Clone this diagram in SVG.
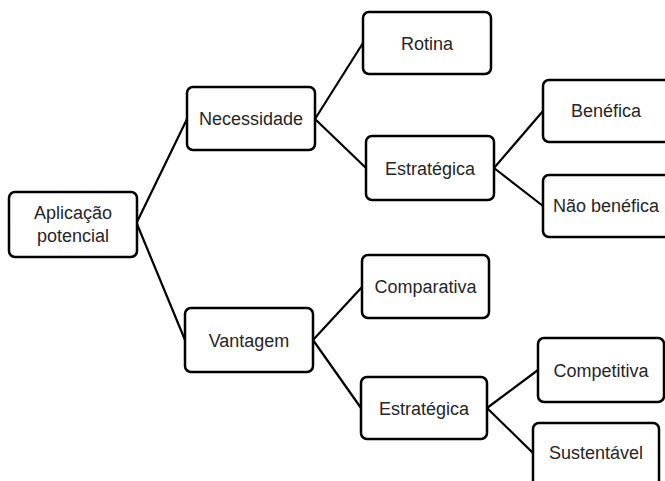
<svg xmlns="http://www.w3.org/2000/svg" width="665" height="481" viewBox="0 0 665 481">
<style>
.box{fill:#fff;stroke:#000;stroke-width:2.5}
.lbl{font-family:"Liberation Sans",Arial,sans-serif;font-size:18px;fill:#262626;text-anchor:middle}
.con{stroke:#000;stroke-width:2.2;fill:none}
</style>
<rect width="665" height="481" fill="#fff"/>
<g id="connectors">
<line class="con" x1="137" y1="222" x2="187" y2="119"/>
<line class="con" x1="137" y1="224" x2="185" y2="340"/>
<line class="con" x1="315" y1="119" x2="363" y2="43"/>
<line class="con" x1="315" y1="119" x2="366" y2="168"/>
<line class="con" x1="494" y1="168" x2="543" y2="111"/>
<line class="con" x1="494" y1="168" x2="543" y2="206"/>
<line class="con" x1="313" y1="340" x2="362" y2="287"/>
<line class="con" x1="313" y1="340" x2="361" y2="408"/>
<line class="con" x1="487" y1="408" x2="538" y2="370"/>
<line class="con" x1="487" y1="408" x2="533" y2="453"/>
</g>
<g id="aplicacao">
<rect class="box" x="9" y="192" width="128" height="65" rx="6"/>
<text class="lbl" x="73" y="219">Aplicação</text>
<text class="lbl" x="73" y="242">potencial</text>
</g>
<g id="necessidade">
<rect class="box" x="187" y="87" width="128" height="63" rx="6"/>
<text class="lbl" x="251" y="125">Necessidade</text>
</g>
<g id="vantagem">
<rect class="box" x="185" y="308" width="128" height="64" rx="6"/>
<text class="lbl" x="249" y="347">Vantagem</text>
</g>
<g id="rotina">
<rect class="box" x="363" y="12" width="128" height="62" rx="6"/>
<text class="lbl" x="427" y="50">Rotina</text>
</g>
<g id="estrategica1">
<rect class="box" x="366" y="136" width="128" height="64" rx="6"/>
<text class="lbl" x="430" y="175">Estratégica</text>
</g>
<g id="benefica">
<rect class="box" x="543" y="80" width="127" height="62" rx="6"/>
<text class="lbl" x="606" y="117">Benéfica</text>
</g>
<g id="nao-benefica">
<rect class="box" x="543" y="175" width="127" height="62" rx="6"/>
<text class="lbl" x="606" y="212">Não benéfica</text>
</g>
<g id="comparativa">
<rect class="box" x="362" y="255" width="127" height="63" rx="6"/>
<text class="lbl" x="425.5" y="293">Comparativa</text>
</g>
<g id="estrategica2">
<rect class="box" x="361" y="377" width="126" height="62" rx="6"/>
<text class="lbl" x="424" y="415">Estratégica</text>
</g>
<g id="competitiva">
<rect class="box" x="538" y="338" width="126" height="64" rx="6"/>
<text class="lbl" x="601" y="377">Competitiva</text>
</g>
<g id="sustentavel">
<rect class="box" x="533" y="423" width="126" height="64" rx="6"/>
<text class="lbl" x="596" y="459">Sustentável</text>
</g>
</svg>
